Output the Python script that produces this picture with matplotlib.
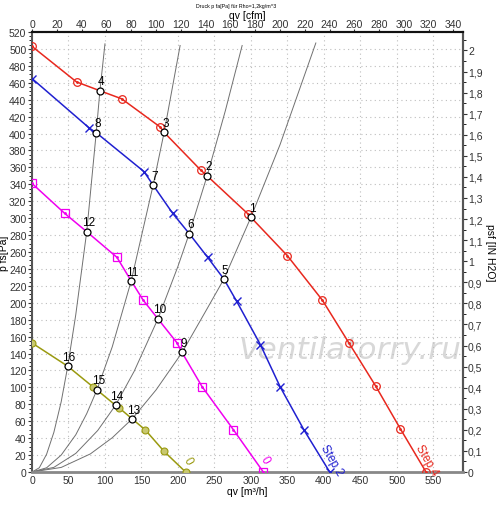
import matplotlib
matplotlib.use('Agg')
import matplotlib.pyplot as plt
from matplotlib.ticker import MultipleLocator, FuncFormatter

plt.rcParams['font.family'] = ['Liberation Sans', 'DejaVu Sans']

# Kennlinien (qv in m3/h, p in Pa)
q_step4 = [0, 61, 93, 123, 176, 181, 231, 240, 296, 300, 350, 398, 434, 471, 505, 540]
p_step4 = [503, 461, 450.6, 441, 407.5, 401.4, 357, 350, 305, 301, 255.6, 203, 153, 101.6, 50.8, 0]
mq_step4 = [0, 61, 123, 176, 231, 296, 350, 398, 434, 471, 505, 540]
mp_step4 = [503, 461, 441, 407.5, 357, 305, 255.6, 203, 153, 101.6, 50.8, 0]

q_step2 = [0, 78.5, 88, 153.5, 166, 192.8, 215.6, 240.7, 263, 280.5, 313, 340, 372.8, 408]
p_step2 = [465, 406.5, 401, 355, 339, 305.7, 281.6, 253.7, 228, 201.7, 150.5, 100.8, 49.6, 0]
mq_step2 = [0, 78.5, 153.5, 192.8, 240.7, 280.5, 313, 340, 372.8, 408]
mp_step2 = [465, 406.5, 355, 305.7, 253.7, 201.7, 150.5, 100.8, 49.6, 0]

q_mag = [0, 45, 75, 116.4, 136, 152.5, 172.6, 198.6, 205.5, 233, 276, 317]
p_mag = [341, 305.5, 284, 253.7, 225.7, 203, 181, 152.8, 141.4, 101, 50, 0]
mq_mag = [0, 45, 116.4, 152.5, 198.6, 233, 276, 317]
mp_mag = [341, 305.5, 253.7, 203, 152.8, 101, 50, 0]

q_oli = [0, 49, 83, 89, 114.6, 119.7, 137.5, 155, 181, 210.5]
p_oli = [152.5, 125, 101, 97, 78.8, 75.6, 62.6, 50, 24.4, 0]
mq_oli = [0, 83, 119.7, 155, 181, 210.5]
mp_oli = [152.5, 101, 75.6, 50, 24.4, 0]

# Anlagenkennlinien
sys_a_q = [0, 10, 20, 30, 40, 49, 60, 75, 88, 93, 100]
sys_a_p = [0, 5, 21, 47, 83, 125, 186, 284, 401, 450, 506]
sys_b_q = [0, 20, 40, 60, 75, 89, 110, 136, 166, 181, 203]
sys_b_p = [0, 5, 20, 44, 69, 97, 148, 226, 339, 401, 504]
sys_c_q = [0, 30, 60, 90, 114.6, 140, 172.6, 200, 215.6, 240, 265, 288]
sys_c_p = [0, 5.5, 22, 49, 79, 119, 181, 243, 282, 350, 427, 504]
sys_d_q = [0, 40, 80, 110, 137.5, 170, 205.5, 240, 263, 300, 340, 389]
sys_d_p = [0, 5.4, 21.4, 40.5, 63, 97, 141, 193, 228, 301, 387, 507]

# Betriebspunkte
op_q = [300, 240, 181, 93, 263, 215.6, 166, 88, 205.5, 172.6, 136, 75, 137.5, 114.6, 89, 49]
op_p = [301, 350, 401.4, 450.6, 228, 281.6, 339, 401, 141.4, 181, 225.7, 284, 62.6, 78.8, 97, 125]
op_lab = ['1', '2', '3', '4', '5', '6', '7', '8', '9', '10', '11', '12', '13', '14', '15', '16']

red = '#e8281e'
blue = '#2020d0'
mag = '#f000f0'
oli = '#9a9a10'

fig = plt.figure(figsize=(5, 5.06), dpi=100)
ax = fig.add_axes([0.064, 0.0652, 0.861, 0.8696])

ax.text(283, 145, 'Ventilatorry.ru', fontsize=22.5, style='italic', color='#d8d8d8',
        ha='left', va='center', zorder=1, family='DejaVu Sans')

for sq, sp in [(sys_a_q, sys_a_p), (sys_b_q, sys_b_p), (sys_c_q, sys_c_p), (sys_d_q, sys_d_p)]:
    ax.plot(sq, sp, color='#707070', lw=0.7, zorder=2)

ax.plot(q_step4, p_step4, color=red, lw=1.1, zorder=3)
ax.plot(mq_step4, mp_step4, 'o', ms=5.5, mfc='none', mec=red, mew=0.9, zorder=4)
ax.plot(mq_step4, mp_step4, '.', ms=2, color=red, zorder=4)

ax.plot(q_step2, p_step2, color=blue, lw=1.1, zorder=3)
ax.plot(mq_step2, mp_step2, 'x', ms=6, mec=blue, mew=1.0, zorder=4)

ax.plot(q_mag, p_mag, color=mag, lw=1.1, zorder=3)
ax.plot(mq_mag, mp_mag, 's', ms=5.5, mfc='none', mec=mag, mew=0.9, zorder=4)
ax.plot(mq_mag, mp_mag, '.', ms=2, color=mag, zorder=4)

ax.plot(q_oli, p_oli, color=oli, lw=1.1, zorder=3)
ax.plot(mq_oli, mp_oli, 'o', ms=5, mfc='#c8c870', mec=oli, mew=0.8, zorder=4)

ax.plot(op_q, op_p, 'o', ms=5, mfc='white', mec='black', mew=0.9, zorder=5)
for q, p, t in zip(op_q, op_p, op_lab):
    ax.annotate(t, (q, p), xytext=(1, 2.5), textcoords='offset points',
                ha='center', va='bottom', fontsize=8.5, zorder=6)

ax.text(541, 15, 'Step 4', color=red, rotation=-60, fontsize=8.5, ha='center', va='center')
ax.text(411, 15, 'Step 2', color=blue, rotation=-60, fontsize=8.5, ha='center', va='center')
ax.text(319, 15, '0', color=mag, rotation=-60, fontsize=8.5, ha='center', va='center')
ax.text(214, 14, '0', color=oli, rotation=-60, fontsize=8.5, ha='center', va='center')

ax.set_xlim(0, 590)
ax.set_ylim(0, 520)
ax.yaxis.set_major_locator(MultipleLocator(20))
ax.yaxis.set_minor_locator(MultipleLocator(5))
ax.set_xticks([x for x in range(0, 551, 50)])
ax.grid(True, which='major', color='#bdbdbd', linestyle=(0, (1, 3)), lw=0.8, zorder=0)
ax.tick_params(axis='both', labelsize=7.5, length=3, width=0.8, pad=1, colors='#333333')
ax.tick_params(axis='y', which='minor', length=2, width=0.6)
ax.tick_params(axis='x', length=0, pad=2)
ax.set_xlabel('qv [m³/h]', fontsize=7.5, labelpad=1)
ax.set_ylabel('p fs[Pa]', fontsize=7.5, labelpad=0)

top = ax.secondary_xaxis('top', functions=(lambda q: q / 1.699, lambda c: c * 1.699))
top.set_xticks(range(0, 341, 20))
top.tick_params(labelsize=7.5, length=2, pad=0.5, colors='#333333')

right = ax.secondary_yaxis('right', functions=(lambda p: p / 249.09, lambda h: h * 249.09))
right.yaxis.set_major_locator(MultipleLocator(0.1))
right.yaxis.set_minor_locator(MultipleLocator(0.05))
right.yaxis.set_major_formatter(FuncFormatter(
    lambda v, pos: ('%.1f' % v).rstrip('0').rstrip('.').replace('.', ',')))
right.tick_params(labelsize=7.5, length=3, width=0.8, pad=1, colors='#333333')
right.tick_params(which='minor', length=2, width=0.6)
right.set_ylabel('psf [IN H2O]', fontsize=7.5, rotation=270, labelpad=9)

for s in ['left', 'right']:
    ax.spines[s].set_color('#555555')
    ax.spines[s].set_linewidth(1.5)
ax.spines['bottom'].set_color('#888888')
ax.spines['bottom'].set_linewidth(2)
ax.spines['top'].set_color('#111111')
ax.spines['top'].set_linewidth(1.5)
top.spines['top'].set_color('#111111')
top.spines['top'].set_linewidth(1.5)
right.spines['right'].set_color('#555555')
right.spines['right'].set_linewidth(1.5)

fig.text(0.472, 0.988, 'Druck p fa[Pa] für Rho=1,2kg/m^3', fontsize=3.8, ha='center', va='center')
fig.text(0.494, 0.969, 'qv [cfm]', fontsize=7.5, ha='center', va='center')

fig.savefig('out.png', dpi=100)
